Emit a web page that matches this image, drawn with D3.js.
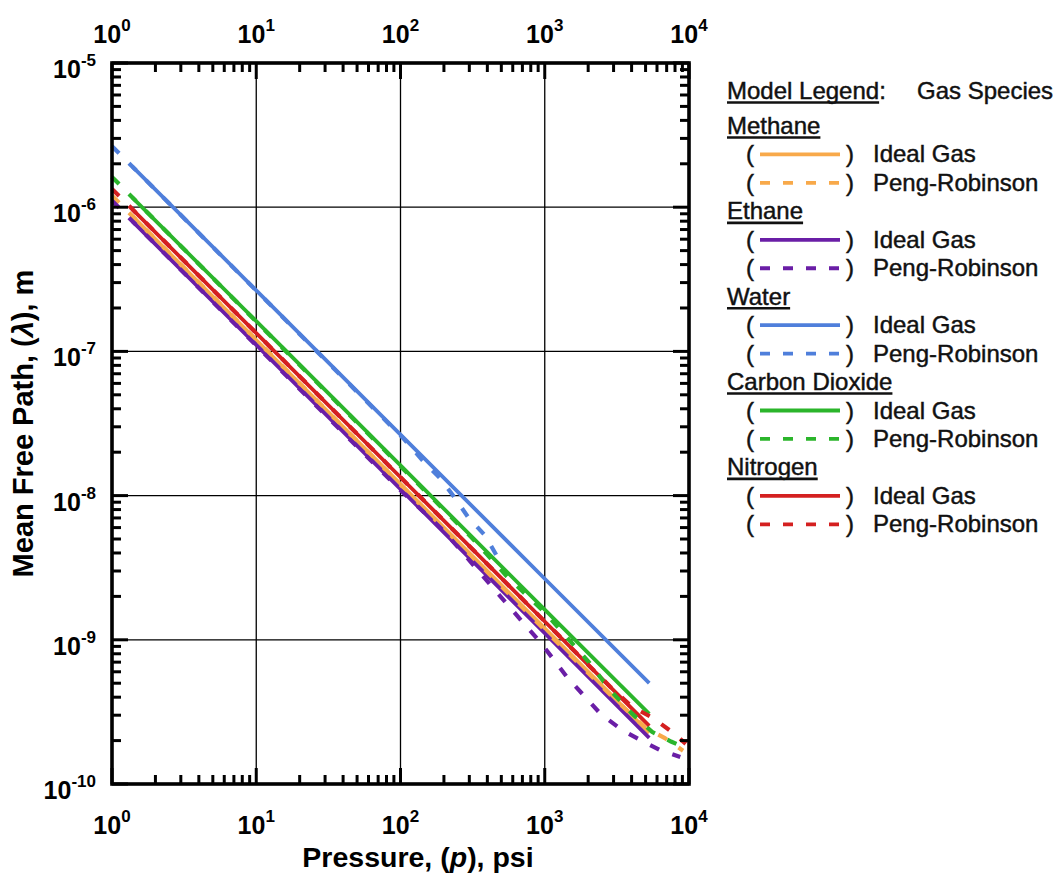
<!DOCTYPE html>
<html><head><meta charset="utf-8">
<script src="https://cdn.jsdelivr.net/npm/d3@7"></script>
<style>html,body{margin:0;padding:0;background:#fff}</style>
</head><body>
<svg id="c" width="1064" height="878"></svg>
<script>
// ---------- data (pressure psi, mean free path m) ----------
const species = ["Methane", "Ethane", "Water", "Carbon Dioxide", "Nitrogen"];
const speciesColors = ["#F8A94A", "#6A1EA6", "#4F7FDB", "#2BB52B", "#D42020"];
const models = ["Ideal Gas", "Peng-Robinson"];
const xTickLabels = ["0", "1", "2", "3", "4"];
const yTickLabels = ["-10", "-9", "-8", "-7", "-6", "-5"];

const methaneIdeal = [[1.38, 8.7e-7], [10, 1.2e-7], [100, 1.2e-8], [1000, 1.2e-9], [5300, 2.26e-10]];
const ethaneIdeal  = [[1.38, 8.0e-7], [10, 1.11e-7], [100, 1.11e-8], [1000, 1.11e-9], [5300, 2.09e-10]];
const waterIdeal   = [[1.38, 1.92e-6], [10, 2.65e-7], [100, 2.65e-8], [1000, 2.65e-9], [5300, 5.0e-10]];
const co2Ideal     = [[1.38, 1.17e-6], [10, 1.62e-7], [100, 1.62e-8], [1000, 1.62e-9], [5300, 3.06e-10]];
const n2Ideal      = [[1.38, 9.7e-7], [10, 1.34e-7], [100, 1.34e-8], [1000, 1.34e-9], [5300, 2.53e-10]];

const methanePR = [[1, 1.2e-6], [10, 1.2e-7], [100, 1.19e-8], [1000, 1.17e-9], [3000, 3.95e-10], [5000, 2.45e-10], [6800, 2.08e-10], [9100, 1.7e-10]];
const ethanePR  = [[1, 1.11e-6], [10, 1.1e-7], [100, 1.09e-8], [203, 5.6e-9], [438, 2.29e-9], [730, 1.27e-9], [927, 9.7e-10], [1430, 5.5e-10], [2450, 3.05e-10], [3430, 2.37e-10], [4600, 2.02e-10], [6300, 1.72e-10], [8700, 1.54e-10]];
const waterPR   = [[1, 2.65e-6], [10, 2.64e-7], [104, 2.51e-8], [141, 1.77e-8], [188, 1.32e-8], [239, 9.6e-9], [294, 7.1e-9], [385, 5.3e-9], [474, 3.7e-9]];
const co2PR     = [[1, 1.62e-6], [10, 1.61e-7], [100, 1.6e-8], [318, 5.0e-9], [547, 2.75e-9], [1000, 1.55e-9], [2000, 7.1e-10], [2830, 4.5e-10], [4000, 3.1e-10], [5540, 2.3e-10], [7500, 1.97e-10], [9840, 1.75e-10]];
const n2PR      = [[1, 1.34e-6], [10, 1.34e-7], [100, 1.34e-8], [1000, 1.34e-9], [2830, 4.75e-10], [4000, 3.45e-10], [5625, 2.87e-10], [7600, 2.3e-10], [9500, 1.9e-10]];

const idealSeries = [methaneIdeal, ethaneIdeal, waterIdeal, co2Ideal, n2Ideal];
const prSeries = [methanePR, ethanePR, waterPR, co2PR, n2PR];

// ---------- layout ----------
const L = 112, R = 689, T = 63, B = 784;
const svg = d3.select("#c");
const FONT = "'Liberation Sans', Arial, Helvetica, sans-serif";
svg.append("rect").attr("width", 1064).attr("height", 878).attr("fill", "#fff");

const x = d3.scaleLog().domain([1, 1e4]).range([L, R]);
const y = d3.scaleLog().domain([1e-10, 1e-5]).range([B, T]);

const isMajor = v => Math.abs(Math.log10(v) - Math.round(Math.log10(v))) < 1e-9;
const xMajor = x.ticks().filter(isMajor);
const yMajor = y.ticks().filter(isMajor);

// gridlines
const g = svg.append("g");
g.selectAll(".gx").data(xMajor.slice(1, -1)).enter().append("line")
  .attr("x1", d => x(d)).attr("x2", d => x(d)).attr("y1", T).attr("y2", B)
  .attr("stroke", "#000").attr("stroke-width", 1.3);
g.selectAll(".gy").data(yMajor.slice(1, -1)).enter().append("line")
  .attr("y1", d => y(d)).attr("y2", d => y(d)).attr("x1", L).attr("x2", R)
  .attr("stroke", "#000").attr("stroke-width", 1.3);

// data lines
const line = d3.line().x(d => x(d[0])).y(d => y(d[1]));
const plot = svg.append("g");
idealSeries.forEach((s, i) => {
  plot.append("path").attr("d", line(s)).attr("fill", "none")
    .attr("stroke", speciesColors[i]).attr("stroke-width", 3.8);
});
prSeries.forEach((s, i) => {
  plot.append("path").attr("d", line(s)).attr("fill", "none")
    .attr("stroke", speciesColors[i]).attr("stroke-width", 4.2)
    .attr("stroke-dasharray", "10,14");
});

// ticks (inside) on all four sides
const ax = svg.append("g").attr("stroke", "#000");
const tickLen = v => isMajor(v) ? 16 : 9;
x.ticks().forEach(v => {
  ax.append("line").attr("x1", x(v)).attr("x2", x(v)).attr("y1", B).attr("y2", B - tickLen(v)).attr("stroke-width", 3);
  ax.append("line").attr("x1", x(v)).attr("x2", x(v)).attr("y1", T).attr("y2", T + tickLen(v)).attr("stroke-width", 3);
});
y.ticks().forEach(v => {
  ax.append("line").attr("y1", y(v)).attr("y2", y(v)).attr("x1", L).attr("x2", L + tickLen(v)).attr("stroke-width", 3);
  ax.append("line").attr("y1", y(v)).attr("y2", y(v)).attr("x1", R).attr("x2", R - tickLen(v)).attr("stroke-width", 3);
});
// frame
svg.append("rect").attr("x", L).attr("y", T).attr("width", R - L).attr("height", B - T)
  .attr("fill", "none").attr("stroke", "#000").attr("stroke-width", 3.6);

// tick labels
function powLabel(sel, exp) {
  sel.append("tspan").text("10");
  sel.append("tspan").attr("dy", -12).attr("font-size", 17).text(exp);
}
xMajor.forEach((v, i) => {
  const t1 = svg.append("text").attr("x", x(v)).attr("y", 834).attr("text-anchor", "middle")
    .attr("font-family", FONT).attr("font-weight", "bold").attr("font-size", 25);
  powLabel(t1, xTickLabels[i]);
  const t2 = svg.append("text").attr("x", x(v)).attr("y", 43).attr("text-anchor", "middle")
    .attr("font-family", FONT).attr("font-weight", "bold").attr("font-size", 25);
  powLabel(t2, xTickLabels[i]);
});
yMajor.forEach((v, i) => {
  const t = svg.append("text").attr("x", 96).attr("y", y(v) + 15).attr("text-anchor", "end")
    .attr("font-family", FONT).attr("font-weight", "bold").attr("font-size", 25);
  powLabel(t, yTickLabels[i]);
});

// axis titles
const xt = svg.append("text").attr("x", 418).attr("y", 867).attr("text-anchor", "middle")
  .attr("font-family", FONT).attr("font-weight", "bold").attr("font-size", 28.5);
xt.append("tspan").text("Pressure, (");
xt.append("tspan").attr("font-style", "italic").text("p");
xt.append("tspan").text("), psi");

const yt = svg.append("text").attr("transform", `translate(33,${(T + B) / 2}) rotate(-90)`)
  .attr("text-anchor", "middle").attr("font-family", FONT).attr("font-weight", "bold").attr("font-size", 29);
yt.append("tspan").text("Mean Free Path, (");
yt.append("tspan").attr("font-style", "italic").text("λ");
yt.append("tspan").text("), m");

// legend
const lg = svg.append("g").attr("font-family", FONT).attr("font-size", 24).attr("fill", "#111")
  .attr("stroke", "#111").attr("stroke-width", 0.45);
function underlined(txt, xx, yy) {
  const t = lg.append("text").attr("x", xx).attr("y", yy).text(txt);
  const w = t.node().getComputedTextLength();
  lg.append("line").attr("x1", xx).attr("x2", xx + w).attr("y1", yy + 3.5).attr("y2", yy + 3.5)
    .attr("stroke", "#111").attr("stroke-width", 2.6);
  return w;
}
const w0 = underlined("Model Legend", 727, 99);
lg.append("text").attr("x", 727 + w0).attr("y", 99).text(":");
lg.append("text").attr("x", 917).attr("y", 99).text("Gas Species");

const rowH = 28.45;
species.forEach((sp, i) => {
  const base = 134 + i * 3 * rowH;
  underlined(sp, 727, base);
  models.forEach((m, j) => {
    const by = base + (j + 1) * rowH;
    lg.append("text").attr("x", 746).attr("y", by).text("(");
    lg.append("text").attr("x", 846).attr("y", by).text(")");
    lg.append("line").attr("x1", 760).attr("x2", 840).attr("y1", by - 8).attr("y2", by - 8)
      .attr("stroke", speciesColors[i]).attr("stroke-width", 3.8)
      .attr("stroke-dasharray", j === 1 ? "10,13" : null);
    lg.append("text").attr("x", 873).attr("y", by).text(m);
  });
});
</script>
</body></html>
